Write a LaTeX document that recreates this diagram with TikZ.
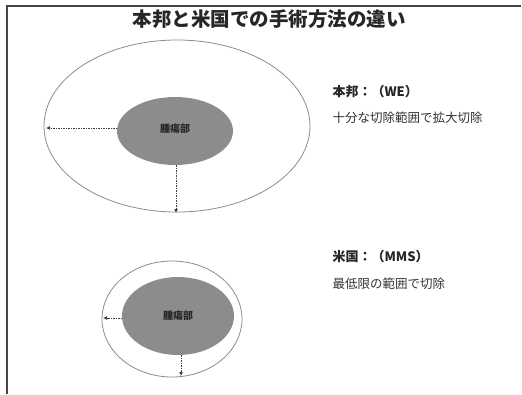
\documentclass[tikz,border=0pt]{standalone}
\usepackage{fontspec}
\setmainfont{Noto Sans CJK JP}
\usetikzlibrary{arrows.meta}
\definecolor{lesion}{RGB}{140,140,140}
\definecolor{framec}{RGB}{70,70,70}
\tikzset{
  outerell/.style={draw=black!45, line width=0.8pt},
  lesionell/.style={fill=lesion, draw=none},
  margin/.style={dashed, dash pattern=on 1.5pt off 1pt, line width=0.9pt, draw=black!75, -{Latex[length=4pt,width=4pt]}},
  heading/.style={anchor=west, text=black!85, font=\fontsize{13}{15}\selectfont\bfseries},
  sub/.style={anchor=west, text=black!80, font=\fontsize{12.5}{13}\selectfont},
  lbl/.style={text=black!85, font=\fontsize{10}{11}\selectfont\bfseries}
}
\begin{document}
\begin{tikzpicture}[x=1pt,y=-1pt]
\useasboundingbox (0,0) rectangle (522,394);
\fill[white] (0,0) rectangle (522,394);
% frame
\draw[framec, line width=1.3pt] (7,394) -- (7,6) -- (521,6);
% title
\node[text=black!85, font=\fontsize{19.5}{21}\selectfont\bfseries] (title) at (269,19) {本邦と米国での手術方法の違い};
% diagram 1
\draw[outerell] (177,126) ellipse [x radius=133, y radius=86];
\fill[lesionell] (175,131) ellipse [x radius=58, y radius=34];
\node[lbl] (l1) at (175,129) {腫瘍部};
\coordinate (a1s) at (117,128);
\coordinate (a1e) at (46,128);
\coordinate (b1s) at (176,165);
\coordinate (b1e) at (176,213);
\draw[margin] (a1s) -- (a1e);
\draw[margin] (b1s) -- (b1e);
% diagram 2
\draw[outerell] (172,319) ellipse [x radius=70, y radius=58];
\fill[lesionell] (178,316) ellipse [x radius=56, y radius=39];
\node[lbl] (l2) at (178,316) {腫瘍部};
\coordinate (a2s) at (122,318);
\coordinate (a2e) at (103,318);
\coordinate (b2s) at (181,355);
\coordinate (b2e) at (181,376);
\draw[margin] (a2s) -- (a2e);
\draw[margin] (b2s) -- (b2e);
% texts
\node[heading] (h1) at (329,92) {本邦：（WE）};
\node[sub] (s1) at (329,118) {十分な切除範囲で拡大切除};
\node[heading] (h2) at (329,257) {米国：（MMS）};
\node[sub] (s2) at (329,284) {最低限の範囲で切除};
\end{tikzpicture}
\end{document}
